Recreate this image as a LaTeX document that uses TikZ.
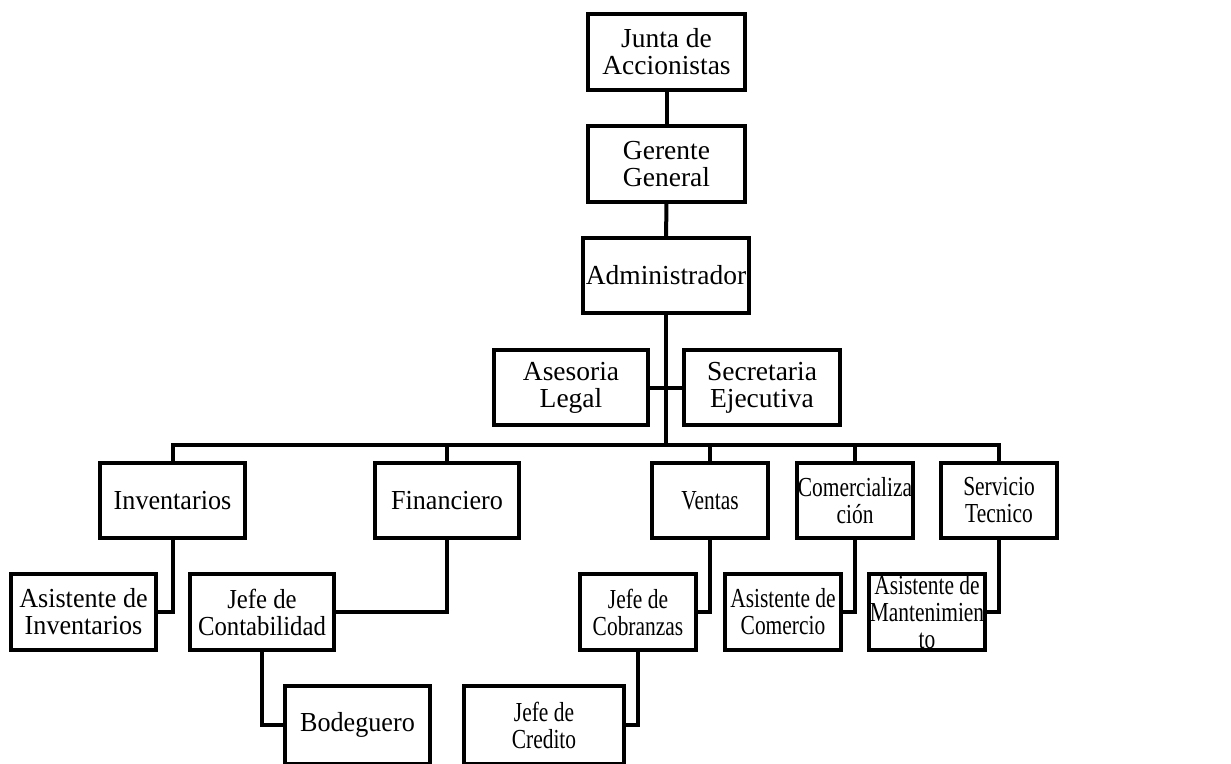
\documentclass[tikz,border=0pt]{standalone}
\usepackage{fontspec}
\setmainfont{Liberation Serif}
\newfontfamily\fA{Liberation Serif}
\newfontfamily\fB[FakeStretch=0.95]{Liberation Serif}
\newfontfamily\fC[FakeStretch=0.9]{Liberation Serif}
\newfontfamily\fD[FakeStretch=0.78]{Liberation Serif}
\tikzset{
  orgbox/.style={draw=black, line width=4pt, fill=white, inner sep=0pt, outer sep=0pt,
    align=center, anchor=center, font=\fontsize{27.5}{27}\selectfont},
  link/.style={draw=black, line width=4pt, line join=miter}
}
\begin{document}
\begin{tikzpicture}[x=1pt,y=-1pt]
\fill[white] (0,0) rectangle (1231,763);
\useasboundingbox (0,0) rectangle (1231,763);
% level 0-2
\node[orgbox, minimum width=157pt, minimum height=76pt] (junta) at (666.5,52) {\fA Junta de\\\fA Accionistas};
\node[orgbox, minimum width=157pt, minimum height=76pt] (ger) at (666.5,164) {\fA Gerente\\\fA General};
\node[orgbox, minimum width=166pt, minimum height=75pt] (adm) at (666,275.5) {\fA Administrador};
\node[orgbox, minimum width=154pt, minimum height=75pt] (ase) at (571,387.5) {\fA Asesoria\\\fA Legal};
\node[orgbox, minimum width=156pt, minimum height=75pt] (sec) at (762,387.5) {\fA Secretaria\\\fA Ejecutiva};
% departments
\node[orgbox, minimum width=145pt, minimum height=75pt] (inv) at (172.5,500.5) {\fB Inventarios};
\node[orgbox, minimum width=144pt, minimum height=75pt] (fin) at (447,500.5) {\fB Financiero};
\node[orgbox, minimum width=116pt, minimum height=75pt] (ven) at (710,500.5) {\fD Ventas};
\node[orgbox, minimum width=116pt, minimum height=75pt] (com) at (855,500.5) {\fD Comercializa\\\fD ción};
\node[orgbox, minimum width=116pt, minimum height=75pt] (ser) at (999,500.5) {\fD Servicio\\\fD Tecnico};
% sub level
\node[orgbox, minimum width=145pt, minimum height=76pt] (ainv) at (83.5,612) {\fB Asistente de\\\fB Inventarios};
\node[orgbox, minimum width=144pt, minimum height=76pt] (jcon) at (262,612) {\fC Jefe de\\\fC Contabilidad};
\node[orgbox, minimum width=116pt, minimum height=76pt] (jcob) at (638,612) {\fD Jefe de\\\fD Cobranzas};
\node[orgbox, minimum width=116pt, minimum height=76pt] (acom) at (783,612) {\fD Asistente de\\\fD Comercio};
\node[orgbox, minimum width=116pt, minimum height=76pt] (aman) at (927,612) {\fD Asistente de\\\fD Mantenimien\\\fD to};
\draw[line width=4pt] (aman.north west) rectangle (aman.south east);
\node[orgbox, minimum width=145pt, minimum height=78pt] (bod) at (357.5,725) {\fB Bodeguero};
\node[orgbox, minimum width=160pt, minimum height=78pt] (jcre) at (544,725) {\fD Jefe de\\\fD Credito};
% connectors
\coordinate (bus) at (666,444.5);
\draw[link] (junta) -- (ger);
\draw[link] (ger) -- (adm);
\draw[link] (adm.south) -- (bus);
\draw[link] (ase.east) -- (sec.west);
\draw[link] (inv.north) |- (bus) -| (ser.north);
\draw[link] (fin.north) -- (fin.north |- bus);
\draw[link] (ven.north) -- (ven.north |- bus);
\draw[link] (com.north) -- (com.north |- bus);
\draw[link] (inv.south) |- (ainv.east);
\draw[link] (fin.south) |- (jcon.east);
\draw[link] (jcon.south) |- (bod.west);
\draw[link] (ven.south) |- (jcob.east);
\draw[link] (jcob.south) |- (jcre.east);
\draw[link] (com.south) |- (acom.east);
\draw[link] (ser.south) |- (aman.east);
\end{tikzpicture}
\end{document}
